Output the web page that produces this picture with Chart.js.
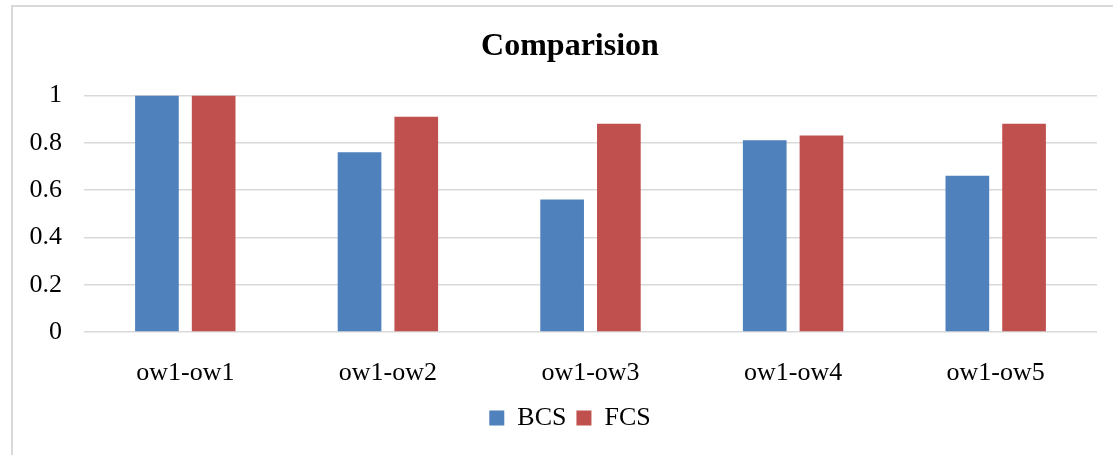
<!DOCTYPE html>
<html>
<head>
<meta charset="utf-8">
<script src="https://cdn.jsdelivr.net/npm/chart.js@4"></script>
<style>
  html, body { margin: 0; padding: 0; background: #fff; overflow: hidden; }
  #box {
    position: absolute; left: 11px; top: 5px;
    border-left: 2px solid #d9d9d9; border-top: 2px solid #d9d9d9;
  }
  #myChart { display: block; }
</style>
</head>
<body>
<div id="box"><canvas id="myChart" width="1114" height="448"></canvas></div>
<script>
var categories = ["ow1-ow1", "ow1-ow2", "ow1-ow3", "ow1-ow4", "ow1-ow5"];
var bcsValues = [1, 0.76, 0.56, 0.81, 0.66];
var fcsValues = [1, 0.91, 0.88, 0.83, 0.88];
var yTicks = [0, 0.2, 0.4, 0.6, 0.8, 1];

var serif = "'Liberation Serif', 'Times New Roman', serif";
Chart.defaults.font.family = serif;
Chart.defaults.color = "#000";

var ctx = document.getElementById("myChart").getContext("2d");
var data = {
  labels: categories,
  datasets: [
    {
      label: "BCS",
      data: bcsValues,
      backgroundColor: "#4F81BD",
      categoryPercentage: 0.56,
      barPercentage: 0.77,
    },
    {
      label: "FCS",
      data: fcsValues,
      backgroundColor: "#C0504D",
      categoryPercentage: 0.56,
      barPercentage: 0.77,
    },
  ],
};
var options = {
  responsive: false,
  animation: false,
  layout: { padding: { left: 0, right: 0, top: 0, bottom: 14 } },
  plugins: {
    title: {
      display: true,
      text: "Comparision",
      font: { size: 32, weight: "bold", family: serif },
      color: "#000",
      padding: { top: 21, bottom: 29 },
    },
    legend: {
      position: "bottom",
      labels: {
        boxWidth: 15,
        boxHeight: 15,
        padding: 10,
        font: { size: 26 },
        color: "#000",
      },
    },
    tooltip: { enabled: false },
  },
  scales: {
    y: {
      min: 0,
      max: 1,
      afterFit: function (scale) { scale.width = 71; },
      afterBuildTicks: function (scale) {
        scale.ticks = yTicks.map(function (v) { return { value: v }; });
      },
      ticks: {
        padding: 22,
        font: { size: 26 },
        color: "#000",
        callback: function (value) { return String(value); },
      },
      grid: { color: "#d9d9d9", lineWidth: 1.5, drawTicks: false },
      border: { display: false },
    },
    // empty right-hand spacer so the plot ends before the canvas edge
    ySpacer: {
      type: "linear",
      position: "right",
      min: 0,
      max: 1,
      afterFit: function (scale) { scale.width = 30; },
      ticks: { display: false },
      grid: { display: false },
      border: { display: false },
    },
    x: {
      afterFit: function (scale) { scale.height = 63; },
      ticks: { padding: 18, font: { size: 26 }, color: "#000" },
      grid: { display: false },
      border: { display: false },
    },
  },
};
var myChart = new Chart(ctx, {
  type: "bar",
  data: data,
  options: options,
});
</script>
</body>
</html>
